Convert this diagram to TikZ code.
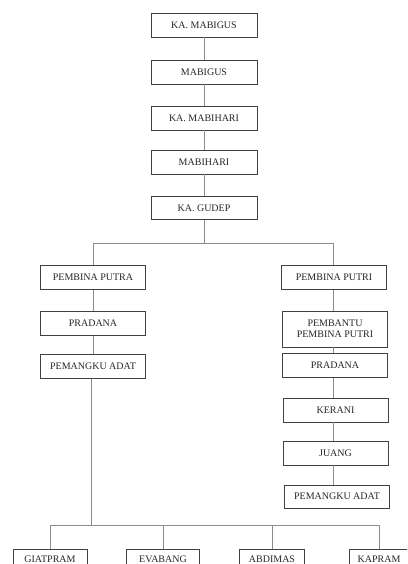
\documentclass[tikz,border=0pt]{standalone}
\usepackage{fontspec}
\setmainfont{Liberation Serif}
\begin{document}
\begin{tikzpicture}[x=1pt,y=-1pt,
  box/.style={draw=black!75, line width=0.9pt, fill=white, minimum width=106pt,
    minimum height=24pt, inner sep=0pt, align=center, text=black!85,
    font=\fontsize{10}{11}\selectfont},
  link/.style={draw=black!45, line width=0.8pt}]
\useasboundingbox (0,0) rectangle (407,564);
\clip (0,0) rectangle (407,564);
\fill[white] (0,0) rectangle (407,564);
% top chain
\node[box] (kamabigus) at (204,25) {KA. MABIGUS};
\node[box] (mabigus) at (204,72) {MABIGUS};
\node[box] (kamabihari) at (204,118) {KA. MABIHARI};
\node[box] (mabihari) at (204,162) {MABIHARI};
\node[box, minimum height=23pt] (gudep) at (204,208) {KA. GUDEP};
% left branch
\node[box, minimum width=105pt] (pputra) at (93,277.5) {PEMBINA PUTRA};
\node[box, minimum width=105pt] (pradanaL) at (93,323.5) {PRADANA};
\node[box, minimum width=105pt] (pemangkuL) at (93,366.5) {PEMANGKU ADAT};
% right branch
\node[box, minimum width=105pt] (pputri) at (334,277.5) {PEMBINA PUTRI};
\node[box, minimum width=105pt, minimum height=36pt] (pembantu) at (335,329) {PEMBANTU\\PEMBINA PUTRI};
\node[box, minimum width=105pt] (pradanaR) at (335,365.5) {PRADANA};
\node[box, minimum width=105pt] (kerani) at (335.5,410) {KERANI};
\node[box, minimum width=105pt] (juang) at (335.5,453) {JUANG};
\node[box, minimum width=105pt, minimum height=23pt] (pemangkuR) at (337,496.5) {PEMANGKU ADAT};
% bottom row
\node[box, minimum width=74pt, minimum height=20pt] (giat) at (50,559) {GIATPRAM};
\node[box, minimum width=73pt, minimum height=20pt] (evabang) at (163,559) {EVABANG};
\node[box, minimum width=65pt, minimum height=20pt] (abdimas) at (272,559) {ABDIMAS};
\node[box, minimum width=60pt, minimum height=20pt] (kapram) at (379,559) {KAPRAM};
% connectors
\draw[link] (kamabigus) -- (mabigus);
\draw[link] (mabigus) -- (kamabihari);
\draw[link] (kamabihari) -- (mabihari);
\draw[link] (mabihari) -- (gudep);
\coordinate (split) at (204,243);
\coordinate (rx) at (333,0);
\draw[link] (gudep.south) -- (split);
\draw[link] (split) -| (pputra.north);
\draw[link] (split) -| (pputri.north -| rx);
\draw[link] (pputra) -- (pradanaL);
\draw[link] (pradanaL) -- (pemangkuL);
\draw[link] (pputri.south -| rx) -- (pembantu.north -| rx);
\draw[link] (pembantu.south -| rx) -- (pradanaR.north -| rx);
\draw[link] (pradanaR.south -| rx) -- (kerani.north -| rx);
\draw[link] (kerani.south -| rx) -- (juang.north -| rx);
\draw[link] (juang.south -| rx) -- (pemangkuR.north -| rx);
\coordinate (bar) at (91,525);
\draw[link] (pemangkuL.south -| bar) -- (bar);
\draw[link] (bar) -| (giat.north);
\draw[link] (bar) -| (evabang.north);
\draw[link] (bar) -| (abdimas.north);
\draw[link] (bar) -| (kapram.north);
\end{tikzpicture}
\end{document}
